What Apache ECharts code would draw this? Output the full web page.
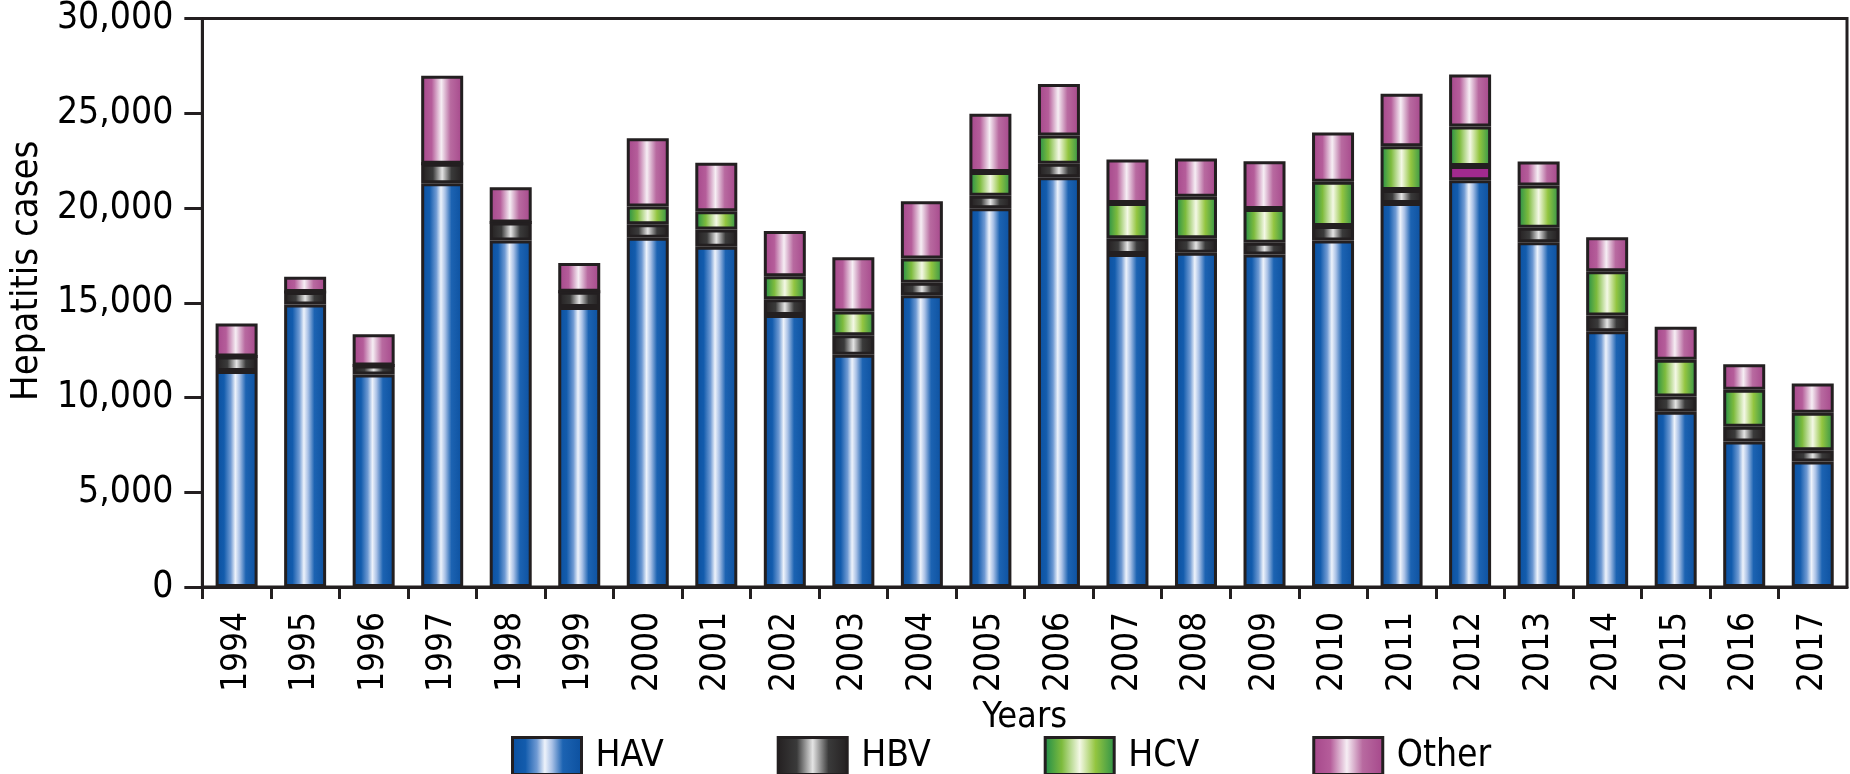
<!DOCTYPE html>
<html>
<head>
<meta charset="utf-8">
<script src="https://cdn.jsdelivr.net/npm/echarts@6/dist/echarts.min.js"></script>
<style>
html,body{margin:0;padding:0;background:#fff;}
#chart{width:1850px;height:774px;}
</style>
</head>
<body>
<div id="chart"></div>
<script>
const years = ['1994','1995','1996','1997','1998','1999','2000','2001','2002','2003','2004','2005','2006','2007','2008','2009','2010','2011','2012','2013','2014','2015','2016','2017'];
const hav   = [11400,14910,11220,21300,18280,14780,18430,17950,14360,12260,15400,19990,21620,17570,17640,17550,18290,20270,21470,18190,13490,9250,7680,6620];
const hbv   = [760,660,470,1040,950,800,710,920,830,1020,660,660,710,830,760,620,760,680,750,770,840,800,780,600];
const hcv   = [0,0,0,0,0,0,940,960,1210,1260,1270,1250,1490,1870,2200,1780,2340,2310,2080,2230,2330,1940,1950,1970];
const other = [1740,800,1650,4640,1860,1520,3600,2560,2380,2860,3020,3080,2720,2290,2010,2520,2600,2770,2740,1270,1790,1750,1340,1550];
const seriesNames = ['HAV','HBV','HCV','Other'];

const FONT = '"Liberation Sans Narrow","Arial Narrow","DejaVu Sans Condensed",sans-serif';
const EDGE = '#231f20';
function grad(stops){
  return new echarts.graphic.LinearGradient(0,0,1,0, stops.map(s=>({offset:s[0],color:s[1]})));
}
const fills = {
  HAV: grad([[0,'#0b4f9e'],[0.2,'#135cad'],[0.36,'#6f9ad3'],[0.47,'#eef3fb'],[0.57,'#a9c1e6'],[0.72,'#1c63b2'],[1,'#0b4f9e']]),
  HBV: grad([[0,'#231f20'],[0.28,'#3a3a3a'],[0.5,'#e4e4e4'],[0.72,'#3a3a3a'],[1,'#231f20']]),
  HCV: grad([[0,'#1b8a4a'],[0.25,'#7dbb3d'],[0.5,'#f4f8e6'],[0.72,'#93c540'],[1,'#2a9048']]),
  Other: grad([[0,'#a5468a'],[0.25,'#b55d9a'],[0.48,'#f6eef4'],[0.7,'#b86aa0'],[1,'#a5468a']])
};
const values = {HAV:hav, HBV:hbv, HCV:hcv, Other:other};

const chart = echarts.init(document.getElementById('chart'), null, {renderer:'canvas'});
const series = seriesNames.map(name => ({
  name: name,
  type: 'bar',
  stack: 'total',
  barWidth: 42,
  itemStyle: { color: fills[name], borderColor: EDGE, borderWidth: 3 },
  emphasis: { disabled: true },
  data: values[name].map((v, i) => {
    if (name === 'HBV' && years[i] === '2012') {
      return { value: v, itemStyle: { color: '#a22a8f' } };
    }
    return v;
  })
}));

chart.setOption({
  animation: false,
  backgroundColor: '#ffffff',
  grid: { left: 172, right: 3, top: 10, bottom: 187, show: true, borderColor: EDGE, borderWidth: 3, backgroundColor: 'transparent' },
  legend: {
    data: seriesNames,
    left: 506, top: 731,
    itemWidth: 69, itemHeight: 37, itemGap: 113,
    icon: 'rect',
    itemStyle: { borderColor: EDGE, borderWidth: 3 },
    textStyle: { fontFamily: FONT, fontSize: 37, color: '#000', padding: [0,0,0,9] },
    selectedMode: false
  },
  xAxis: {
    type: 'category',
    data: years,
    name: 'Years',
    nameLocation: 'middle',
    nameGap: 90,
    nameTextStyle: { fontFamily: FONT, fontSize: 36, color: '#000' },
    axisLine: { lineStyle: { color: EDGE, width: 3 } },
    axisTick: { show: true, length: 12, lineStyle: { color: EDGE, width: 3 } },
    axisLabel: { rotate: 90, margin: 25, fontFamily: FONT, fontSize: 35, color: '#000', interval: 0 }
  },
  yAxis: {
    type: 'value',
    min: 0, max: 30000, interval: 5000,
    name: 'Hepatitis cases',
    nameLocation: 'middle',
    nameRotate: 90,
    nameGap: 149,
    nameTextStyle: { fontFamily: FONT, fontSize: 38, color: '#000', padding: [0,0,0,64] },
    splitLine: { show: false },
    axisLine: { show: true, lineStyle: { color: EDGE, width: 3 } },
    axisTick: { show: true, length: 18, lineStyle: { color: EDGE, width: 3 } },
    axisLabel: {
      margin: 29, fontFamily: FONT, fontSize: 37, color: '#000', padding: [10,0,0,0],
      formatter: v => v.toLocaleString('en-US')
    }
  },
  series: series
});
</script>
</body>
</html>
